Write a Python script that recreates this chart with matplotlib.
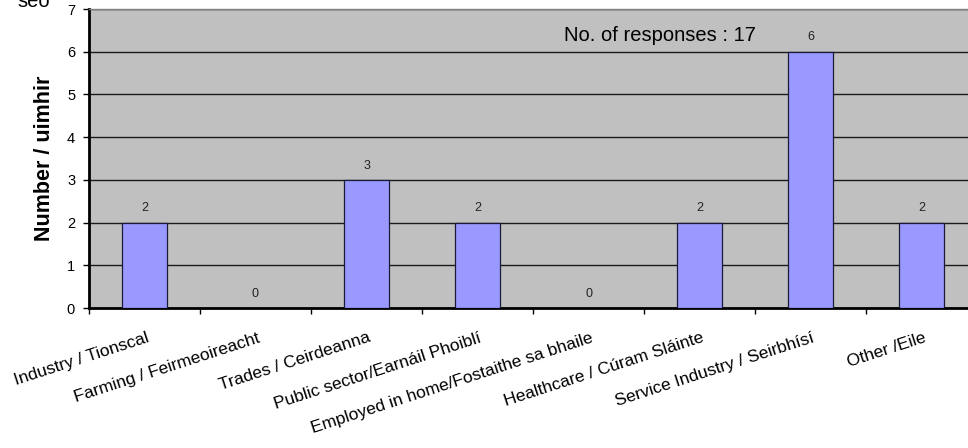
import matplotlib.pyplot as plt
import numpy as np

plt.rcParams['font.family'] = ['Liberation Sans', 'DejaVu Sans']

categories = [
    "Industry / Tionscal",
    "Farming / Feirmeoireacht",
    "Trades / Ceirdeanna",
    "Public sector/Earnáil Phoiblí",
    "Employed in home/Fostaithe sa bhaile",
    "Healthcare / Cúram Sláinte",
    "Service Industry / Seirbhísí",
    "Other /Eile",
]
counts = [2, 0, 3, 2, 0, 2, 6, 2]
total_responses = 17

fig = plt.figure(figsize=(9.68, 4.48), dpi=100)
# plot area runs past the right edge of the picture, as in the original
ax = fig.add_axes([89 / 968, 140 / 448, 888 / 968, 299 / 448])
ax.set_facecolor('#C0C0C0')

x = np.arange(len(categories))
ax.bar(x, counts, width=0.4, color='#9999FF', edgecolor='#1a1a3a', linewidth=0.9, zorder=3)

for xi, v in zip(x, counts):
    ax.annotate(str(v), xy=(xi, v), xytext=(0, 6), textcoords='offset points',
                ha='center', va='bottom', fontsize=9, color='#222222', zorder=4)

ax.set_xlim(-0.5, len(categories) - 0.5)
ax.set_ylim(0, 7)
ax.set_yticks(range(0, 8))
ax.tick_params(axis='y', length=4, width=1, labelsize=10.5, pad=6, colors='black')
ax.yaxis.grid(True, color='#1a1a1a', linewidth=1, zorder=1)
ax.set_axisbelow(True)

# category boundary ticks, labels centred under each bar
ax.set_xticks(np.arange(-0.5, len(categories), 1.0))
ax.set_xticklabels([])
ax.tick_params(axis='x', length=4, width=1, direction='out')
for xi, lab in zip(x, categories):
    ax.annotate(lab, xy=(xi, 0), xycoords=('data', 'axes fraction'),
                xytext=(1, -16), textcoords='offset points',
                ha='right', va='top', rotation=18, rotation_mode='anchor',
                fontsize=12.5, annotation_clip=False)

for side in ['left', 'bottom']:
    ax.spines[side].set_color('black')
    ax.spines[side].set_linewidth(2)
ax.spines['top'].set_color('#808080')
ax.spines['top'].set_linewidth(1)
ax.spines['right'].set_visible(False)

ax.set_ylabel("Number / uimhir", fontsize=15.5, fontweight='bold')
ax.yaxis.set_label_coords(-34 / 888, 0.5)

ax.text(0.535, 0.913, f"No. of responses : {total_responses}", transform=ax.transAxes,
        ha='left', va='center', fontsize=14.5)

fig.text(17 / 968, 1.0 - 7 / 448, "seo", ha='left', va='baseline', fontsize=14.5)

fig.savefig('out.png', dpi=100)
